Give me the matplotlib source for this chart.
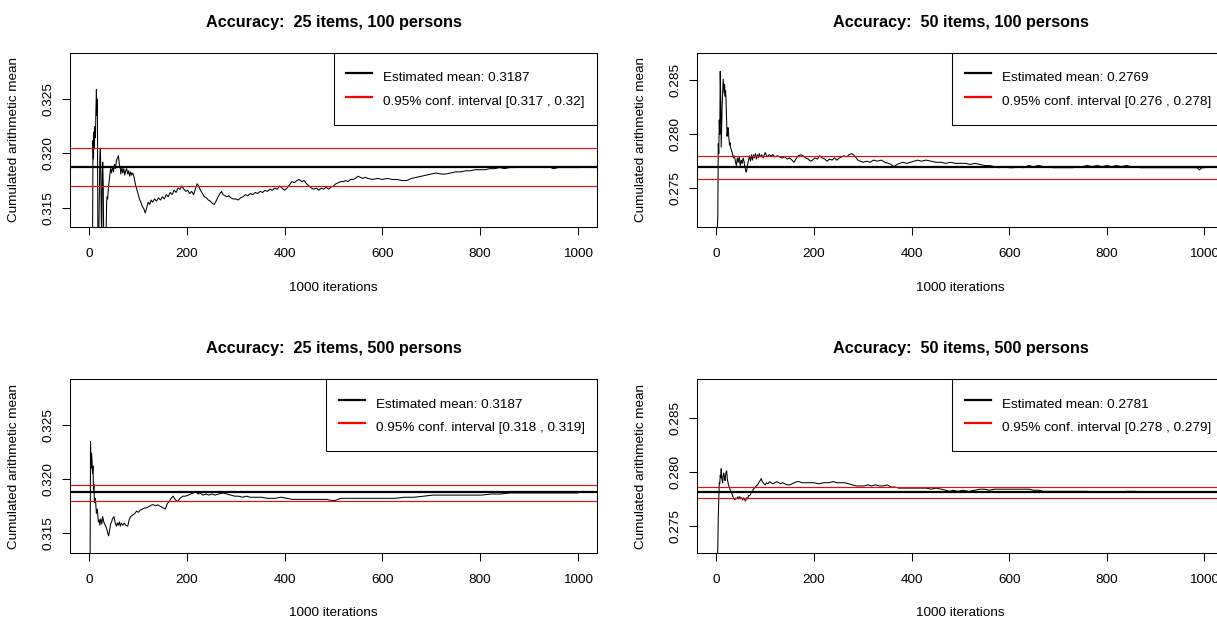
import matplotlib
matplotlib.use("Agg")
import matplotlib.pyplot as plt
from matplotlib.lines import Line2D

plt.rcParams['font.family'] = ['Liberation Sans', 'DejaVu Sans']

# ---------------- data ----------------
titles = ["Accuracy:  25 items, 100 persons", "Accuracy:  50 items, 100 persons",
          "Accuracy:  25 items, 500 persons", "Accuracy:  50 items, 500 persons"]
mean_labels = ["Estimated mean: 0.3187", "Estimated mean: 0.2769",
               "Estimated mean: 0.3187", "Estimated mean: 0.2781"]
ci_labels = ["0.95% conf. interval [0.317 , 0.32]", "0.95% conf. interval [0.276 , 0.278]",
             "0.95% conf. interval [0.318 , 0.319]", "0.95% conf. interval [0.278 , 0.279]"]
means = [0.31875, 0.27697, 0.31875, 0.27815]
ci_low = [0.3170, 0.2759, 0.31798, 0.27762]
ci_high = [0.32046, 0.27799, 0.3194, 0.27857]
ylims = [(0.31318, 0.32931), (0.27139, 0.28753), (0.31311, 0.32928), (0.27247, 0.28861)]
yticks = [[0.315, 0.320, 0.325], [0.275, 0.280, 0.285],
          [0.315, 0.320, 0.325], [0.275, 0.280, 0.285]]
xticks = [0, 200, 400, 600, 800, 1000]

# cumulated mean, 25 items / 100 persons
it_tl = [1, 3, 5, 7, 8, 9, 10, 11, 12, 13, 14, 15, 16, 17, 18, 19, 20, 21, 22, 23, 24, 25, 26, 27, 28, 29,
         30, 31, 33, 34, 35, 36, 37, 38, 40, 42, 44, 46, 48, 50, 52, 54, 56, 58, 60, 62, 64, 65, 67, 69,
         71, 73, 75, 77, 79, 81, 83, 85, 87, 89, 91, 93, 95, 97, 100, 103, 106, 109, 112, 115, 118, 121,
         124, 127, 130, 134, 138, 142, 146, 150, 154, 158, 162, 166, 170, 174, 178, 182, 186, 190, 194,
         198, 202, 206, 210, 214, 218, 221, 224, 228, 232, 236, 240, 244, 248, 252, 256, 260, 264, 268,
         271, 274, 278, 282, 286, 290, 295, 300, 305, 310, 315, 320, 325, 330, 335, 340, 345, 350, 355,
         360, 365, 370, 375, 380, 385, 390, 395, 400, 405, 410, 415, 420, 425, 430, 435, 440, 445, 450,
         455, 460, 465, 470, 475, 480, 485, 490, 495, 500, 505, 510, 515, 520, 525, 530, 535, 540, 545,
         550, 555, 560, 565, 570, 580, 590, 600, 610, 620, 630, 640, 650, 660, 670, 680, 690, 700, 710,
         720, 730, 740, 750, 760, 770, 780, 790, 800, 810, 820, 830, 840, 850, 860, 870, 880, 890, 900,
         920, 940, 950, 960, 970, 980, 1000]
cm_tl = [0.290, 0.300, 0.305, 0.3100, 0.3212, 0.3195, 0.3220, 0.3205, 0.3225, 0.3215, 0.3240, 0.3259,
         0.3235, 0.3250, 0.3120, 0.3105, 0.3125, 0.3160, 0.3195, 0.3205, 0.3185, 0.3140, 0.3120, 0.3180,
         0.3192, 0.3170, 0.3120, 0.3110, 0.3115, 0.3125, 0.3130, 0.3155, 0.3160, 0.3158, 0.3170, 0.3178,
         0.3186, 0.3182, 0.3188, 0.3183, 0.3190, 0.3186, 0.3193, 0.3196, 0.3198, 0.3190, 0.3186, 0.3181,
         0.3187, 0.3182, 0.3186, 0.3180, 0.3184, 0.3186, 0.3181, 0.3184, 0.3179, 0.3183, 0.3180, 0.3182,
         0.3180, 0.3176, 0.3171, 0.3168, 0.3163, 0.3158, 0.3155, 0.3151, 0.3149, 0.3145, 0.3150, 0.3155,
         0.3153, 0.3157, 0.3155, 0.3158, 0.3156, 0.3159, 0.3157, 0.3160, 0.3158, 0.3162, 0.3160, 0.3164,
         0.3162, 0.3166, 0.3164, 0.3168, 0.3167, 0.3170, 0.3167, 0.3165, 0.3166, 0.3163, 0.3165, 0.3162,
         0.3168, 0.3172, 0.3170, 0.3166, 0.3163, 0.3160, 0.3159, 0.3157, 0.3156, 0.3154, 0.3153, 0.3156,
         0.3160, 0.3163, 0.3165, 0.3162, 0.3161, 0.3160, 0.3161, 0.3159, 0.3158, 0.3158, 0.3157, 0.3159,
         0.3160, 0.3162, 0.3161, 0.3163, 0.3162, 0.3164, 0.3163, 0.3165, 0.3164, 0.3166, 0.3165, 0.3167,
         0.3166, 0.3168, 0.3167, 0.3170, 0.3168, 0.3166, 0.3168, 0.3171, 0.3174, 0.3173, 0.3175, 0.3176,
         0.3174, 0.3175, 0.3172, 0.3170, 0.3168, 0.3167, 0.3168, 0.3166, 0.3168, 0.3167, 0.3169, 0.3167,
         0.3169, 0.3170, 0.3172, 0.3173, 0.3174, 0.3174, 0.3175, 0.3174, 0.3176, 0.3176, 0.3177, 0.3179,
         0.3178, 0.3177, 0.3178, 0.3177, 0.3176, 0.3177, 0.3176, 0.3177, 0.3176, 0.3176, 0.3175, 0.3175,
         0.3177, 0.3178, 0.3179, 0.3180, 0.3181, 0.3182, 0.3181, 0.3181, 0.3182, 0.3183, 0.3183, 0.3184,
         0.3184, 0.3185, 0.3185, 0.3185, 0.3186, 0.3186, 0.3187, 0.3186, 0.3187, 0.3187, 0.3188, 0.3188,
         0.3188, 0.3188, 0.3188, 0.3186, 0.3187, 0.3187, 0.3187, 0.3187]

# cumulated mean, 50 items / 100 persons
it_tr = [1, 3, 4, 5, 6, 7, 8, 9, 10, 11, 12, 13, 14, 15, 16, 17, 18, 19, 20, 21, 22, 23, 24, 25, 26, 27,
         28, 29, 31, 33, 35, 37, 39, 41, 43, 45, 47, 49, 51, 53, 55, 57, 59, 61, 62, 64, 66, 68, 70, 72,
         74, 76, 78, 80, 82, 84, 86, 88, 90, 93, 96, 100, 104, 108, 112, 116, 120, 125, 130, 135, 140,
         145, 150, 155, 159, 163, 168, 173, 178, 183, 188, 193, 197, 202, 207, 212, 217, 222, 227, 232,
         237, 242, 247, 252, 257, 262, 267, 272, 277, 281, 285, 290, 295, 301, 308, 315, 322, 330, 338,
         345, 352, 358, 364, 370, 376, 382, 390, 398, 405, 412, 420, 430, 440, 450, 460, 470, 480, 490,
         500, 510, 520, 530, 540, 550, 560, 570, 580, 590, 600, 610, 620, 630, 640, 650, 660, 670, 680,
         690, 700, 710, 720, 730, 740, 750, 760, 770, 780, 790, 800, 810, 820, 830, 840, 850, 860, 870,
         900, 950, 985, 990, 995, 1000]
cm_tr = [0.2700, 0.27235, 0.2791, 0.2782, 0.2813, 0.2800, 0.2858, 0.2830, 0.2788, 0.2810, 0.2828, 0.2840,
         0.2851, 0.2845, 0.2838, 0.2846, 0.2835, 0.2840, 0.2830, 0.2815, 0.2798, 0.2803, 0.2806, 0.2800,
         0.2795, 0.2790, 0.2792, 0.2788, 0.2785, 0.2782, 0.2778, 0.2780, 0.2775, 0.2771, 0.2778, 0.2774,
         0.2779, 0.2771, 0.2776, 0.2773, 0.2778, 0.2774, 0.2769, 0.2765, 0.2766, 0.2772, 0.2776, 0.2780,
         0.2775, 0.2781, 0.2776, 0.2781, 0.2778, 0.2782, 0.2777, 0.2781, 0.2778, 0.2782, 0.2779, 0.2781,
         0.2778, 0.2783, 0.2779, 0.2781, 0.2780, 0.2781, 0.2779, 0.2780, 0.2779, 0.2778, 0.2779, 0.2777,
         0.2778, 0.2776, 0.2774, 0.2777, 0.2780, 0.2781, 0.2780, 0.2778, 0.2777, 0.2775, 0.2776, 0.2778,
         0.2777, 0.2780, 0.2778, 0.2777, 0.2775, 0.2777, 0.2776, 0.2778, 0.2776, 0.2778, 0.2779, 0.2780,
         0.2779, 0.2781, 0.2782, 0.2781, 0.2779, 0.2776, 0.2775, 0.2774, 0.2775, 0.2774, 0.2776, 0.2775,
         0.2776, 0.2774, 0.2773, 0.2772, 0.2770, 0.2772, 0.2773, 0.2774, 0.2773, 0.2774, 0.2775, 0.2776,
         0.2775, 0.2776, 0.2775, 0.2774, 0.2774, 0.2773, 0.2774, 0.2773, 0.2773, 0.2773, 0.2772, 0.2773,
         0.2772, 0.2771, 0.2771, 0.2770, 0.2769, 0.2770, 0.2769, 0.2769, 0.2770, 0.2769, 0.2771, 0.2770,
         0.2771, 0.2770, 0.2770, 0.2769, 0.2769, 0.2769, 0.2769, 0.2769, 0.2770, 0.2770, 0.2771, 0.2770,
         0.2771, 0.2770, 0.2771, 0.2770, 0.2771, 0.2770, 0.2771, 0.2770, 0.2770, 0.2769, 0.2769, 0.2769,
         0.2769, 0.2767, 0.2769, 0.2769]

# cumulated mean, 25 items / 500 persons
it_bl = [1, 2, 3, 4, 5, 6, 7, 8, 9, 10, 11, 13, 15, 17, 19, 21, 22, 24, 26, 28, 30, 32, 34, 36, 38, 40,
         42, 44, 46, 48, 51, 53, 56, 58, 60, 62, 64, 66, 69, 72, 75, 79, 82, 85, 88, 91, 94, 97, 101,
         105, 109, 113, 117, 121, 125, 129, 132, 136, 140, 144, 148, 152, 156, 160, 164, 168, 172, 176,
         181, 186, 192, 197, 203, 208, 213, 219, 223, 227, 233, 240, 245, 251, 258, 265, 274, 282, 290,
         298, 306, 314, 322, 330, 340, 353, 365, 380, 393, 405, 416, 430, 448, 465, 487, 496, 503, 515,
         527, 545, 566, 585, 606, 625, 645, 665, 684, 704, 724, 744, 763, 783, 803, 822, 842, 862, 882,
         900, 921, 940, 961, 980, 1000]
cm_bl = [0.3000, 0.3100, 0.3235, 0.3210, 0.3224, 0.3218, 0.3205, 0.3212, 0.3190, 0.3195, 0.3178, 0.3182,
         0.3168, 0.3172, 0.3160, 0.3162, 0.3157, 0.3163, 0.3158, 0.3165, 0.3160, 0.3158, 0.3156, 0.3154,
         0.3150, 0.3147, 0.3152, 0.3158, 0.3160, 0.3163, 0.3165, 0.3160, 0.3156, 0.3159, 0.3157, 0.3160,
         0.3156, 0.3159, 0.3157, 0.3159, 0.3157, 0.3156, 0.3162, 0.3165, 0.3166, 0.3167, 0.3168, 0.3170,
         0.3169, 0.3171, 0.3172, 0.3173, 0.3173, 0.3174, 0.3175, 0.3176, 0.3176, 0.3175, 0.3176, 0.3175,
         0.3174, 0.3173, 0.3172, 0.3177, 0.3179, 0.3182, 0.3184, 0.3181, 0.3179, 0.3182, 0.3184, 0.3184,
         0.3185, 0.3186, 0.3187, 0.3188, 0.3186, 0.3187, 0.3185, 0.3186, 0.3185, 0.3186, 0.3185, 0.3186,
         0.3187, 0.3186, 0.3185, 0.3184, 0.3184, 0.3183, 0.3184, 0.3183, 0.3183, 0.3183, 0.3182, 0.3182,
         0.3183, 0.3182, 0.3181, 0.3181, 0.3181, 0.3181, 0.3181, 0.3180, 0.3180, 0.3182, 0.3182, 0.3182,
         0.3182, 0.3182, 0.3182, 0.3182, 0.3183, 0.3183, 0.3184, 0.3185, 0.3185, 0.3185, 0.3185, 0.3185,
         0.3185, 0.3186, 0.3186, 0.3187, 0.3187, 0.3187, 0.3187, 0.3187, 0.3187, 0.3187, 0.3187]

# cumulated mean, 50 items / 500 persons
it_br = [1, 3, 4, 5, 6, 7, 8, 9, 10, 11, 12, 13, 14, 15, 16, 17, 18, 19, 20, 21, 22, 23, 25, 28, 30, 32,
         34, 36, 38, 40, 42, 44, 46, 48, 50, 52, 54, 56, 58, 60, 62, 64, 66, 68, 70, 72, 74, 76, 78, 80,
         82, 84, 86, 88, 90, 92, 94, 96, 98, 100, 103, 106, 109, 112, 116, 120, 124, 128, 132, 136, 140,
         145, 150, 155, 160, 165, 170, 175, 183, 190, 200, 210, 220, 230, 240, 247, 255, 263, 271, 279,
         287, 295, 303, 310, 318, 326, 334, 342, 350, 358, 366, 374, 382, 390, 398, 406, 414, 422, 430,
         440, 450, 461, 470, 478, 485, 495, 505, 517, 530, 540, 549, 560, 570, 581, 595, 610, 628, 640,
         650, 661, 670, 680, 690, 700, 720, 740, 760, 780, 800, 820, 840, 859, 880, 920, 960, 1000]
cm_br = [0.2700, 0.27292, 0.2759, 0.27742, 0.2790, 0.2789, 0.2797, 0.2795, 0.2803, 0.2795, 0.2792, 0.2790,
         0.2796, 0.2799, 0.2797, 0.2793, 0.2792, 0.2797, 0.2800, 0.2801, 0.2796, 0.2792, 0.2788, 0.2784,
         0.2781, 0.2780, 0.2777, 0.2775, 0.2774, 0.2776, 0.2775, 0.2777, 0.2775, 0.2777, 0.2775, 0.2776,
         0.2774, 0.2776, 0.2774, 0.2773, 0.2776, 0.2775, 0.2778, 0.2778, 0.2779, 0.2781, 0.2782, 0.2784,
         0.2785, 0.2786, 0.2787, 0.2788, 0.2789, 0.2791, 0.2792, 0.2794, 0.2791, 0.2790, 0.2789, 0.2788,
         0.2790, 0.2789, 0.2791, 0.2790, 0.2789, 0.2790, 0.2791, 0.2790, 0.2789, 0.2790, 0.2789, 0.2788,
         0.2788, 0.2789, 0.2790, 0.2791, 0.2791, 0.2790, 0.2790, 0.2790, 0.2790, 0.2789, 0.2790, 0.2790,
         0.2791, 0.2790, 0.2790, 0.2790, 0.2789, 0.2788, 0.2787, 0.2787, 0.2787, 0.2788, 0.2787, 0.2788,
         0.2787, 0.2787, 0.2788, 0.2786, 0.2786, 0.2785, 0.2785, 0.2785, 0.2785, 0.2785, 0.2785, 0.2785,
         0.2785, 0.2784, 0.2785, 0.2784, 0.2783, 0.2782, 0.2783, 0.2782, 0.2783, 0.2782, 0.2783, 0.2784,
         0.2784, 0.2783, 0.2784, 0.2784, 0.2784, 0.2784, 0.2784, 0.2784, 0.2783, 0.2783, 0.2782, 0.2782,
         0.2782, 0.2782, 0.2782, 0.2782, 0.2782, 0.2781, 0.2781, 0.2781, 0.2782, 0.2782, 0.2781, 0.2781,
         0.2781, 0.2781]

iters = [it_tl, it_tr, it_bl, it_br]
cmeans = [cm_tl, cm_tr, cm_bl, cm_br]

# ---------------- layout ----------------
W, H = 1217, 621
DPI = 100
fig = plt.figure(figsize=(W / DPI, H / DPI), dpi=DPI)
fig.patch.set_facecolor("white")

# axes boxes in pixels: (left, top, right, bottom)
boxes = [(70.0, 52.7, 597.4, 227.3), (697.3, 52.7, 1223.9, 227.3),
         (70.0, 379.3, 597.4, 553.0), (697.3, 379.3, 1223.9, 553.0)]

FS = 9.7
for k in range(4):
    l, t, r, b = boxes[k]
    ax = fig.add_axes([l / W, (H - b) / H, (r - l) / W, (b - t) / H])
    ax.plot(iters[k], cmeans[k], color="black", lw=0.75)
    ax.axhline(means[k], color="black", lw=1.6)
    ax.axhline(ci_low[k], color="red", lw=0.8)
    ax.axhline(ci_high[k], color="red", lw=0.8)
    ax.set_xlim(-39, 1040)
    ax.set_ylim(*ylims[k])
    ax.set_xticks(xticks)
    ax.set_xticklabels([str(v) for v in xticks])
    ax.set_yticks(yticks[k])
    ax.set_yticklabels(["%.3f" % v for v in yticks[k]])
    for s in ax.spines.values():
        s.set_linewidth(0.75)
        s.set_color("black")
    ax.tick_params(axis="x", length=5.8, width=0.75, pad=9.2, labelsize=FS, colors="black")
    ax.tick_params(axis="y", length=5.8, width=0.75, pad=5.3, labelsize=FS, colors="black")
    for lab in ax.get_yticklabels():
        lab.set_rotation(90)
        lab.set_va("center")
    ax.set_title(titles[k], fontsize=11.7, fontweight="bold", pad=18.7)
    ax.set_xlabel("1000 iterations", fontsize=FS)
    ax.set_ylabel("Cumulated arithmetic mean", fontsize=FS)
    ax.xaxis.set_label_coords(0.5, -54.3 / (b - t))
    ax.yaxis.set_label_coords(-50.0 / (r - l), 0.5)
    handles = [Line2D([], [], color="black", lw=1.6), Line2D([], [], color="red", lw=1.6)]
    leg = ax.legend(handles, [mean_labels[k], ci_labels[k]], loc="upper right",
                    borderaxespad=0, fontsize=FS, frameon=True, fancybox=False,
                    edgecolor="black", framealpha=1, handlelength=1.93,
                    handletextpad=0.8, borderpad=0.95, labelspacing=0.0,
                    handleheight=2.28)
    leg.get_frame().set_linewidth(0.75)

fig.savefig("out.png", dpi=DPI)
